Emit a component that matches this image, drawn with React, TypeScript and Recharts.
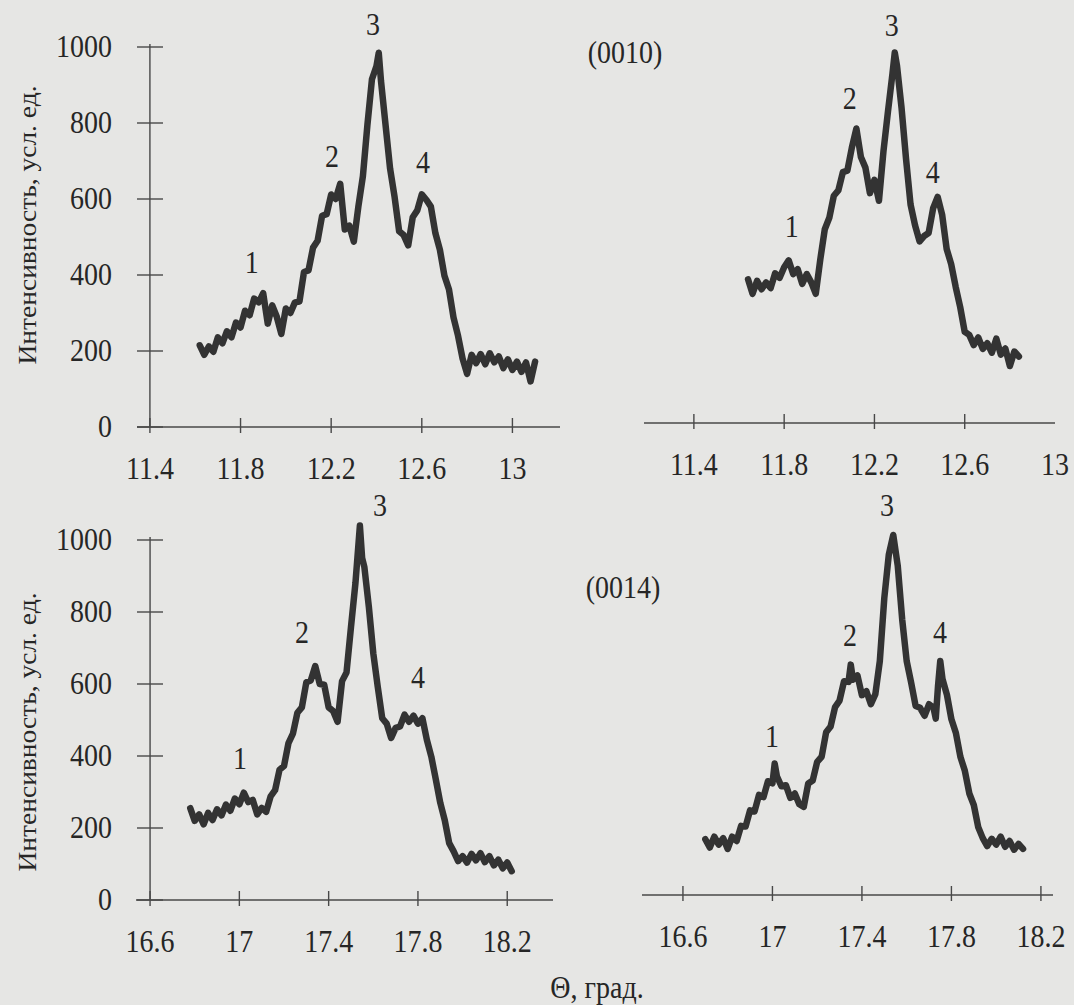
import React from 'react';
import { LineChart, Line, XAxis, YAxis, ReferenceLine, ReferenceDot } from 'recharts';

// ---------- DATA ----------
// (0010), sample 1 (top-left)
const thetaTL = [11.62, 11.64, 11.66, 11.68, 11.70, 11.72, 11.74, 11.76, 11.78, 11.80, 11.82, 11.84, 11.86, 11.88, 11.90, 11.92, 11.94, 11.96, 11.98, 12.00, 12.02, 12.04, 12.06, 12.08, 12.10, 12.12, 12.14, 12.16, 12.18, 12.20, 12.22, 12.24, 12.26, 12.28, 12.30, 12.32, 12.34, 12.36, 12.38, 12.40, 12.41, 12.42, 12.44, 12.46, 12.48, 12.50, 12.52, 12.54, 12.56, 12.58, 12.60, 12.62, 12.64, 12.66, 12.68, 12.70, 12.72, 12.74, 12.76, 12.78, 12.80, 12.82, 12.84, 12.86, 12.88, 12.90, 12.92, 12.94, 12.96, 12.98, 13.00, 13.02, 13.04, 13.06, 13.08, 13.10];
const intensityTL = [215, 190, 212, 198, 236, 220, 252, 236, 275, 262, 306, 294, 338, 328, 352, 272, 320, 290, 245, 312, 300, 328, 330, 408, 412, 472, 490, 556, 560, 612, 600, 640, 520, 530, 488, 580, 660, 795, 915, 950, 985, 910, 795, 680, 605, 515, 505, 478, 552, 570, 612, 598, 580, 510, 466, 398, 362, 288, 240, 180, 140, 190, 168, 192, 165, 194, 170, 186, 155, 178, 150, 172, 145, 170, 120, 172];

// (0010), sample 2 (top-right)
const thetaTR = [11.64, 11.66, 11.68, 11.70, 11.72, 11.74, 11.76, 11.78, 11.80, 11.82, 11.84, 11.86, 11.88, 11.90, 11.92, 11.94, 11.96, 11.98, 12.00, 12.02, 12.04, 12.06, 12.08, 12.10, 12.12, 12.14, 12.16, 12.18, 12.20, 12.22, 12.24, 12.26, 12.28, 12.29, 12.30, 12.32, 12.34, 12.36, 12.38, 12.40, 12.42, 12.44, 12.46, 12.48, 12.50, 12.52, 12.54, 12.56, 12.58, 12.60, 12.62, 12.64, 12.66, 12.68, 12.70, 12.72, 12.74, 12.76, 12.78, 12.80, 12.82, 12.84];
const intensityTR = [378, 340, 374, 352, 370, 355, 394, 382, 410, 428, 392, 405, 366, 392, 370, 340, 430, 510, 540, 598, 612, 660, 664, 725, 775, 700, 672, 605, 640, 585, 715, 820, 920, 975, 940, 830, 695, 575, 520, 478, 492, 500, 565, 595, 548, 458, 418, 358, 305, 240, 232, 205, 225, 195, 210, 185, 222, 180, 196, 150, 188, 175];

// (0014), sample 1 (bottom-left)
const thetaBL = [16.78, 16.80, 16.82, 16.84, 16.86, 16.88, 16.90, 16.92, 16.94, 16.96, 16.98, 17.00, 17.02, 17.04, 17.06, 17.08, 17.10, 17.12, 17.14, 17.16, 17.18, 17.20, 17.22, 17.24, 17.26, 17.28, 17.30, 17.32, 17.34, 17.36, 17.38, 17.40, 17.42, 17.44, 17.46, 17.48, 17.50, 17.52, 17.54, 17.55, 17.56, 17.58, 17.60, 17.62, 17.64, 17.66, 17.68, 17.70, 17.72, 17.74, 17.76, 17.78, 17.80, 17.82, 17.84, 17.86, 17.88, 17.90, 17.92, 17.94, 17.96, 17.98, 18.00, 18.02, 18.04, 18.06, 18.08, 18.10, 18.12, 18.14, 18.16, 18.18, 18.20, 18.22];
const intensityBL = [255, 220, 238, 210, 242, 222, 252, 235, 265, 248, 282, 266, 298, 272, 278, 238, 256, 245, 288, 305, 362, 372, 436, 462, 520, 535, 605, 610, 650, 600, 598, 535, 525, 495, 608, 632, 758, 880, 1040, 950, 925, 815, 685, 592, 505, 490, 450, 478, 482, 515, 495, 512, 490, 505, 445, 398, 335, 270, 222, 158, 135, 108, 122, 104, 128, 110, 130, 105, 122, 96, 112, 88, 104, 80];

// (0014), sample 2 (bottom-right)
const thetaBR = [16.70, 16.72, 16.74, 16.76, 16.78, 16.80, 16.82, 16.84, 16.86, 16.88, 16.90, 16.92, 16.94, 16.96, 16.98, 17.00, 17.01, 17.02, 17.04, 17.06, 17.08, 17.10, 17.12, 17.14, 17.16, 17.18, 17.20, 17.22, 17.24, 17.26, 17.28, 17.30, 17.32, 17.34, 17.35, 17.36, 17.38, 17.40, 17.42, 17.44, 17.46, 17.48, 17.50, 17.52, 17.54, 17.56, 17.58, 17.60, 17.62, 17.64, 17.66, 17.68, 17.70, 17.72, 17.73, 17.74, 17.75, 17.76, 17.78, 17.80, 17.82, 17.84, 17.86, 17.88, 17.90, 17.92, 17.94, 17.96, 17.98, 18.00, 18.02, 18.04, 18.06, 18.08, 18.10, 18.12];
const intensityBR = [155, 132, 162, 140, 158, 128, 162, 150, 192, 190, 235, 232, 278, 272, 316, 310, 365, 330, 302, 305, 270, 282, 252, 245, 310, 318, 370, 384, 452, 468, 522, 540, 594, 592, 640, 598, 610, 555, 566, 530, 558, 650, 825, 945, 1000, 915, 765, 650, 590, 525, 520, 498, 530, 520, 490, 580, 650, 600, 556, 488, 450, 384, 345, 282, 250, 188, 158, 136, 156, 140, 162, 134, 150, 126, 142, 128];

// tick values
const xTicksTop = [11.4, 11.8, 12.2, 12.6, 13];
const xTicksBottom = [16.6, 17, 17.4, 17.8, 18.2];
const yTicks = [0, 200, 400, 600, 800, 1000];

// peak annotations (label, theta, intensity where the number sits)
const peakLabels = ['1', '2', '3', '4'];
const peakThetaTL = [11.85, 12.204, 12.385, 12.605];
const peakValueTL = [432, 711, 1058, 695];
const peakThetaTR = [11.834, 12.091, 12.277, 12.458];
const peakValueTR = [516, 855, 1047, 658];
const peakThetaBL = [17.003, 17.281, 17.63, 17.80];
const peakValueBL = [394, 742, 1097, 617];
const peakThetaBR = [16.998, 17.347, 17.512, 17.749];
const peakValueBR = [439, 722, 1083, 728];

// ---------- STYLE ----------
const W = 1074;
const H = 1005;
const AX_H = 60; // x-axis band height
const AX_W = 60; // y-axis band width
const FONT = "'Liberation Serif', 'Times New Roman', serif";
const INK = '#262626';
const AXIS = '#484848';
const CURVE = '#333333';
const BG = '#e6e6e4';

function SText(props: { x: number; y: number; anchor?: string; size?: number; rotate?: boolean; children: React.ReactNode }) {
  const { x, y, anchor = 'middle', size = 28, rotate = false, children } = props;
  const t = rotate
    ? `translate(${x},${y}) rotate(-90) scale(1.1,1)`
    : `translate(${x},${y}) scale(1,1.1)`;
  return (
    <text transform={t} textAnchor={anchor as any} dy="0.34em" fontFamily={FONT} fontSize={size} fill={INK}>
      {children}
    </text>
  );
}

const makeXTick = (noMark: number[]) => (props: any) => {
  const { x, y, payload } = props;
  const v = payload.value;
  return (
    <g>
      {!noMark.includes(v) && <line x1={x} x2={x} y1={y - 9} y2={y + 6} stroke={AXIS} strokeWidth={1.4} />}
      <SText x={x} y={y + 42}>{String(v)}</SText>
    </g>
  );
};

const makeYTick = (offset: number) => (props: any) => {
  const { x, y, payload } = props;
  const ax = x + offset;
  return (
    <g>
      <line x1={ax - 13} x2={ax + 13} y1={y} y2={y} stroke={AXIS} strokeWidth={1.4} />
      <SText x={ax - 38} y={y} anchor="end">{String(payload.value)}</SText>
    </g>
  );
};

const PeakLabel = (props: any) => {
  const { viewBox, value } = props;
  const cx = viewBox.x + (viewBox.width || 0) / 2;
  const cy = viewBox.y + (viewBox.height || 0) / 2;
  return <SText x={cx} y={cy}>{value}</SText>;
};

type PanelDef = {
  theta: number[];
  intensity: number[];
  peakTheta: number[];
  peakValue: number[];
  xTicks: number[];
  noMark: number[];
  plot: { left: number; top: number; right: number; bottom: number };
  xDomain: [number, number];
  yDomain: [number, number];
  yAxis?: { origin: number; offset: number };
};

function PanelChart({ p }: { p: PanelDef }) {
  const data = p.theta.map((t, i) => ({ theta: t, intensity: p.intensity[i] }));
  const hasY = !!p.yAxis;
  return (
    <div style={{ position: 'absolute', left: 0, top: 0 }}>
      <LineChart
        width={W}
        height={H}
        data={data}
        margin={{
          top: p.plot.top,
          right: W - p.plot.right,
          bottom: H - p.plot.bottom - AX_H,
          left: p.plot.left - (hasY ? AX_W : 0),
        }}
      >
        <XAxis
          type="number"
          dataKey="theta"
          domain={p.xDomain}
          ticks={p.xTicks}
          interval={0}
          height={AX_H}
          tickSize={0}
          tickMargin={0}
          axisLine={{ stroke: AXIS, strokeWidth: 1.4 }}
          tickLine={false}
          tick={makeXTick(p.noMark)}
          allowDataOverflow
        />
        {hasY ? (
          <YAxis
            type="number"
            domain={p.yDomain}
            ticks={yTicks}
            interval={0}
            width={AX_W}
            tickSize={0}
            tickMargin={0}
            axisLine={false}
            tickLine={false}
            tick={makeYTick(p.yAxis!.offset)}
            allowDataOverflow
          />
        ) : (
          <YAxis hide type="number" domain={p.yDomain} allowDataOverflow />
        )}
        {hasY && (
          <ReferenceLine
            segment={[{ x: p.yAxis!.origin, y: 0 }, { x: p.yAxis!.origin, y: 1008 }]}
            stroke={AXIS}
            strokeWidth={1.4}
            ifOverflow="visible"
          />
        )}
        <Line
          type="linear"
          dataKey="intensity"
          stroke={CURVE}
          strokeWidth={6.5}
          strokeLinejoin="round"
          strokeLinecap="round"
          dot={false}
          isAnimationActive={false}
        />
        {peakLabels.map((lab, i) => (
          <ReferenceDot
            key={lab}
            x={p.peakTheta[i]}
            y={p.peakValue[i]}
            r={2}
            fill="none"
            stroke="none"
            ifOverflow="visible"
            label={{ value: lab, content: PeakLabel }}
          />
        ))}
      </LineChart>
    </div>
  );
}

const panels: PanelDef[] = [
  {
    theta: thetaTL, intensity: intensityTL, peakTheta: peakThetaTL, peakValue: peakValueTL,
    xTicks: xTicksTop, noMark: [],
    plot: { left: 137, top: 9, right: 560, bottom: 427 },
    xDomain: [11.343, 13.21], yDomain: [0, 1100],
    yAxis: { origin: 11.4, offset: 13 },
  },
  {
    theta: thetaTR, intensity: intensityTR, peakTheta: peakThetaTR, peakValue: peakValueTR,
    xTicks: xTicksTop, noMark: [13],
    plot: { left: 644, top: 5, right: 1055, bottom: 423 },
    xDomain: [11.179, 13.0], yDomain: [0, 1100],
  },
  {
    theta: thetaBL, intensity: intensityBL, peakTheta: peakThetaBL, peakValue: peakValueBL,
    xTicks: xTicksBottom, noMark: [],
    plot: { left: 136, top: 486, right: 553, bottom: 900 },
    xDomain: [16.537, 18.405], yDomain: [0, 1150],
    yAxis: { origin: 16.6, offset: 14 },
  },
  {
    theta: thetaBR, intensity: intensityBR, peakTheta: peakThetaBR, peakValue: peakValueBR,
    xTicks: xTicksBottom, noMark: [],
    plot: { left: 642, top: 481, right: 1053, bottom: 895 },
    xDomain: [16.417, 18.254], yDomain: [0, 1150],
  },
];

export default function App() {
  return (
    <div style={{ position: 'fixed', left: 0, top: 0, width: W, height: H, overflow: 'hidden', background: BG }}>
      {panels.map((p, i) => (
        <PanelChart key={i} p={p} />
      ))}
      <svg width={W} height={H} style={{ position: 'absolute', left: 0, top: 0, pointerEvents: 'none' }}>
        <SText x={625} y={53}>(0010)</SText>
        <SText x={623} y={588}>(0014)</SText>
        <SText x={597} y={988}>Θ, град.</SText>
        <SText x={27} y={225} size={25} rotate>Интенсивность, усл. ед.</SText>
        <SText x={27} y={732} size={25} rotate>Интенсивность, усл. ед.</SText>
      </svg>
    </div>
  );
}
